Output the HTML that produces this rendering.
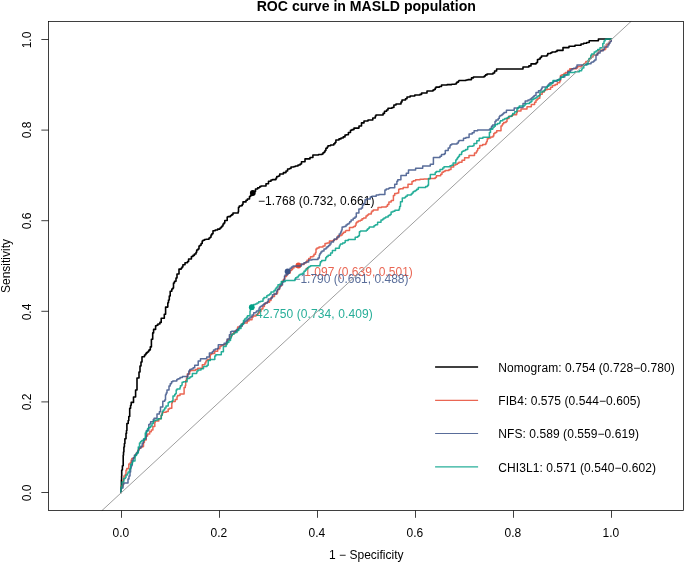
<!DOCTYPE html>
<html><head><meta charset="utf-8"><title>ROC curve in MASLD population</title>
<style>
html,body{margin:0;padding:0;background:#fff;}
body{width:685px;height:562px;position:relative;overflow:hidden;font-family:"Liberation Sans",sans-serif;color:#000;}
.t{position:absolute;white-space:nowrap;font-size:12px;line-height:12px;}
.c{transform:translateX(-50%);}
.v{transform:translate(-50%,-50%) rotate(-90deg);}
</style></head><body><div id="w" style="position:absolute;left:0;top:0;width:685px;height:562px;will-change:transform;">

<svg width="685" height="562" viewBox="0 0 685 562" style="position:absolute;left:0;top:0">
<polyline points="121.0,492.4 121.1,492.4 121.1,489.1 121.4,489.1 121.4,484.4 121.4,480.0 121.6,480.0 121.6,475.9 121.7,475.9 121.7,470.0 122.1,470.0 122.4,470.0 122.4,465.8 123.2,465.8 123.2,462.7 123.2,455.2 123.5,455.2 123.5,452.0 123.9,452.0 123.9,447.0 124.4,447.0 124.4,443.6 124.9,443.6 124.9,438.8 125.3,438.8 126.0,438.8 126.0,433.4 126.5,433.4 126.5,430.6 126.9,430.6 126.9,427.0 126.9,423.5 127.6,423.5 128.2,423.5 128.2,420.6 128.8,420.6 128.8,416.5 129.7,416.5 129.7,413.3 129.7,408.2 130.6,408.2 130.6,405.3 131.2,405.3 131.2,402.4 132.3,402.4 133.5,402.4 133.5,400.0 133.5,397.0 134.5,397.0 135.6,397.0 135.6,394.0 135.6,390.0 136.0,390.0 137.0,390.0 137.0,384.0 137.0,378.0 138.0,378.0 139.0,378.0 139.0,372.0 140.0,372.0 140.0,366.0 141.0,366.0 141.0,362.0 142.0,362.0 142.0,359.0 142.0,356.8 143.4,356.8 144.5,356.8 144.5,355.0 145.6,355.0 145.6,353.9 146.3,353.9 146.3,352.9 147.3,352.9 147.3,352.0 148.5,352.0 148.5,350.9 149.1,350.9 149.1,349.9 150.3,349.9 150.3,346.9 151.4,346.9 151.4,345.4 151.4,339.2 152.7,339.2 152.7,332.9 153.6,332.9 153.6,329.4 154.9,329.4 155.6,329.4 155.6,327.8 155.6,325.8 156.7,325.8 156.7,325.2 157.9,325.2 157.9,324.0 159.4,324.0 159.9,324.0 159.9,322.4 161.2,322.4 161.2,321.4 161.2,318.3 162.1,318.3 164.3,318.3 164.3,317.8 164.3,314.2 164.7,314.2 165.6,314.2 165.6,310.2 165.6,307.1 167.0,307.1 167.8,307.1 167.8,302.7 168.5,302.7 168.5,300.0 169.3,300.0 169.3,296.0 170.2,296.0 170.2,292.0 170.2,291.3 171.1,291.3 171.8,291.3 171.8,289.0 172.8,289.0 172.8,288.1 173.5,288.1 173.5,286.0 173.5,283.0 174.5,283.0 174.5,281.2 175.0,281.2 176.0,281.2 176.0,280.0 176.0,278.0 177.0,278.0 177.0,274.0 178.0,274.0 179.0,274.0 179.0,270.0 179.0,269.1 180.4,269.1 181.3,269.1 181.3,268.1 182.0,268.1 182.0,267.0 182.9,267.0 182.9,265.4 182.9,264.8 184.4,264.8 185.0,264.8 185.0,264.0 185.0,262.7 186.1,262.7 187.5,262.7 187.5,261.5 188.6,261.5 188.6,259.7 188.6,259.0 190.0,259.0 191.4,259.0 191.4,257.7 191.4,256.5 193.0,256.5 193.0,255.4 194.4,255.4 194.4,254.0 196.0,254.0 196.0,252.3 196.7,252.3 196.7,250.0 198.0,250.0 198.0,249.0 199.0,249.0 199.0,246.0 200.0,246.0 200.0,245.2 201.1,245.2 201.1,243.5 201.5,243.5 202.2,243.5 202.2,241.7 202.2,241.0 203.0,241.0 203.0,240.2 204.5,240.2 204.5,239.5 206.0,239.5 206.0,239.2 208.2,239.2 209.0,239.2 209.0,238.0 210.1,238.0 210.1,237.3 211.0,237.3 211.0,235.0 211.9,235.0 211.9,233.7 213.0,233.7 213.0,232.0 213.0,230.8 215.2,230.8 215.2,230.0 216.5,230.0 217.6,230.0 217.6,229.1 220.0,229.1 220.0,228.0 221.1,228.0 221.1,227.0 222.0,227.0 222.0,226.0 223.0,226.0 223.0,225.0 223.0,224.0 224.0,224.0 224.0,222.9 224.8,222.9 224.8,220.5 226.0,220.5 227.2,220.5 227.2,218.5 227.2,217.0 228.0,217.0 228.0,216.6 229.1,216.6 230.5,216.6 230.5,215.5 231.8,215.5 231.8,214.6 233.0,214.6 233.0,214.0 233.0,213.0 237.0,213.0 238.2,213.0 238.2,211.8 238.5,211.8 238.5,209.5 238.5,207.2 239.3,207.2 239.3,206.0 240.0,206.0 241.2,206.0 241.2,205.6 242.3,205.6 242.3,204.2 243.0,204.2 243.0,203.0 243.0,201.9 244.6,201.9 246.0,201.9 246.0,201.0 246.0,200.3 247.4,200.3 247.4,199.0 249.0,199.0 249.5,199.0 249.5,197.8 249.5,196.5 250.5,196.5 250.5,195.4 250.9,195.4 252.0,195.4 252.0,194.0 252.0,192.7 253.6,192.7 253.6,191.5 254.5,191.5 255.5,191.5 255.5,189.8 255.5,189.0 257.0,189.0 257.6,189.0 257.6,187.9 259.0,187.9 259.0,187.5 259.8,187.5 259.8,186.6 261.0,186.6 261.0,186.0 266.0,186.0 266.0,185.0 266.0,183.8 267.5,183.8 268.5,183.8 268.5,182.5 268.5,181.3 270.3,181.3 271.0,181.3 271.0,180.0 272.6,180.0 272.6,179.6 276.0,179.6 276.0,178.0 276.8,178.0 276.8,176.5 278.5,176.5 278.5,176.0 279.7,176.0 279.7,175.2 279.7,174.0 281.0,174.0 283.4,174.0 283.4,173.2 283.4,172.6 285.0,172.6 286.0,172.6 286.0,171.0 287.6,171.0 287.6,170.0 287.6,169.0 288.5,169.0 289.5,169.0 289.5,168.5 291.0,168.5 291.0,167.0 294.0,167.0 294.0,166.5 295.6,166.5 295.6,166.0 298.0,166.0 298.0,165.0 300.1,165.0 300.1,164.0 301.5,164.0 301.5,162.5 301.5,161.8 303.4,161.8 305.0,161.8 305.0,160.0 305.0,158.9 307.0,158.9 310.0,158.9 310.0,157.5 312.9,157.5 312.9,156.1 312.9,155.0 315.0,155.0 318.5,155.0 318.5,154.5 322.0,154.5 322.0,154.0 323.0,154.0 323.0,152.7 324.2,152.7 324.2,151.9 325.0,151.9 325.0,150.5 325.9,150.5 325.9,149.1 325.9,148.3 327.2,148.3 327.2,147.0 328.0,147.0 328.0,145.7 330.6,145.7 330.6,145.0 333.0,145.0 333.8,145.0 333.8,143.8 335.0,143.8 335.0,142.5 335.9,142.5 335.9,141.3 335.9,140.0 337.0,140.0 339.0,140.0 339.0,138.9 341.0,138.9 341.0,138.0 343.2,138.0 343.2,136.9 345.0,136.9 345.0,136.0 345.0,135.1 346.2,135.1 346.2,134.7 346.8,134.7 348.4,134.7 348.4,133.7 348.4,132.5 349.5,132.5 350.5,132.5 350.5,131.3 350.5,130.2 352.0,130.2 352.0,129.6 353.1,129.6 354.0,129.6 354.0,129.0 354.0,128.1 356.7,128.1 359.0,128.1 359.0,127.0 359.0,126.0 360.2,126.0 361.5,126.0 361.5,124.5 361.5,122.9 362.3,122.9 364.0,122.9 364.0,122.0 364.0,121.0 368.0,121.0 368.0,120.0 372.0,120.0 372.8,120.0 372.8,118.6 372.8,118.0 374.0,118.0 375.3,118.0 375.3,116.9 375.3,116.0 376.0,116.0 376.0,115.0 381.0,115.0 383.1,115.0 383.1,113.4 384.5,113.4 384.5,112.5 384.5,111.3 386.6,111.3 386.6,110.0 388.0,110.0 388.0,108.3 389.2,108.3 392.0,108.3 392.0,107.5 393.9,107.5 393.9,106.0 393.9,105.0 396.0,105.0 396.0,104.0 401.0,104.0 401.0,102.0 402.0,102.0 402.0,100.0 403.0,100.0 405.5,100.0 405.5,98.8 407.0,98.8 407.0,98.0 407.0,97.0 410.1,97.0 410.1,96.0 411.0,96.0 414.8,96.0 414.8,95.6 414.8,95.0 420.0,95.0 420.0,94.4 421.6,94.4 421.6,93.0 422.0,93.0 427.0,93.0 427.0,92.0 427.0,91.0 433.0,91.0 433.0,90.1 434.1,90.1 434.1,89.5 434.5,89.5 435.2,89.5 435.2,88.8 435.2,88.0 436.0,88.0 436.0,87.1 437.5,87.1 439.5,87.1 439.5,86.5 441.5,86.5 441.5,85.7 441.5,85.0 443.0,85.0 447.2,85.0 447.2,84.6 451.7,84.6 451.7,84.3 455.0,84.3 455.0,84.0 456.3,84.0 456.3,82.9 457.0,82.9 457.0,82.5 457.0,82.1 458.5,82.1 458.5,81.0 459.0,81.0 459.0,80.5 466.0,80.5 466.0,80.0 468.0,80.0 468.0,79.6 469.6,79.6 471.5,79.6 471.5,78.5 471.5,77.9 473.4,77.9 473.4,77.0 475.0,77.0 475.0,77.0 479.0,77.0 479.0,77.0 483.0,77.0 484.1,77.0 484.1,76.4 485.0,76.4 485.0,75.5 485.6,75.5 485.6,74.9 487.0,74.9 487.0,74.0 493.0,74.0 493.0,73.0 494.6,73.0 494.6,72.2 494.6,71.0 495.5,71.0 496.6,71.0 496.6,70.5 496.6,69.0 498.0,69.0 498.0,69.0 501.7,69.0 505.8,69.0 505.8,69.0 505.8,69.0 509.7,69.0 516.1,69.0 516.1,69.0 521.0,69.0 521.0,69.0 523.0,69.0 523.0,67.6 523.0,67.0 527.0,67.0 528.9,67.0 528.9,65.9 531.0,65.9 531.0,65.0 531.0,63.9 532.8,63.9 536.0,63.9 536.0,63.0 536.9,63.0 536.9,62.4 537.5,62.4 537.5,61.0 537.5,59.5 538.1,59.5 539.0,59.5 539.0,59.0 540.2,59.0 540.2,58.4 540.2,57.5 541.0,57.5 541.5,57.5 541.5,56.5 541.5,56.0 543.0,56.0 547.0,56.0 547.0,55.0 547.8,55.0 547.8,54.3 547.8,53.5 549.5,53.5 550.8,53.5 550.8,52.7 552.0,52.7 552.0,52.0 555.5,52.0 555.5,51.5 557.0,51.5 557.0,50.4 563.0,50.4 563.0,49.0 563.0,47.6 569.0,47.6 569.0,46.2 575.0,46.2 575.0,45.3 577.3,45.3 581.0,45.3 581.0,44.0 583.6,44.0 583.6,43.3 586.7,43.3 586.7,42.5 589.2,42.5 589.2,41.4 589.2,40.8 592.6,40.8 598.4,40.8 598.4,39.6 598.4,39.0 604.0,39.0 604.0,39.0 607.0,39.0 607.0,39.0 611.0,39.0" fill="none" stroke="#000" stroke-width="1.6" stroke-opacity="1" stroke-linejoin="round" stroke-linecap="round"/>
<circle cx="252.8" cy="193.0" r="2.9" fill="#000"/>
</svg>
<div class="t" style="left:258px;top:194.5px;letter-spacing:0.07px;">−1.768 (0.732, 0.661)</div>
<svg width="685" height="562" viewBox="0 0 685 562" style="position:absolute;left:0;top:0">
<polyline points="121.0,492.4 121.0,486.0 122.0,486.0 123.0,486.0 123.0,480.0 123.9,480.0 123.9,478.0 123.9,476.0 124.5,476.0 125.3,476.0 125.3,474.2 126.0,474.2 126.0,472.0 126.0,470.2 126.8,470.2 126.8,468.5 127.5,468.5 128.8,468.5 128.8,464.0 130.3,464.0 130.3,462.6 131.2,462.6 131.2,461.7 131.2,459.9 131.8,459.9 131.8,458.6 132.8,458.6 133.8,458.6 133.8,457.5 134.7,457.5 134.7,456.4 135.2,456.4 135.2,454.7 136.4,454.7 136.4,452.9 137.6,452.9 137.6,451.1 138.3,451.1 138.3,450.3 138.3,449.4 139.4,449.4 139.4,448.2 140.6,448.2 140.6,447.0 141.5,447.0 142.8,447.0 142.8,446.4 143.5,446.4 143.5,445.2 143.5,442.5 144.4,442.5 144.4,440.0 145.3,440.0 146.2,440.0 146.2,435.9 147.6,435.9 147.6,434.1 149.7,434.1 149.7,432.3 149.7,431.7 150.6,431.7 151.3,431.7 151.3,431.1 151.3,430.0 152.9,430.0 152.9,426.4 153.5,426.4 154.8,426.4 154.8,424.0 154.8,422.3 155.3,422.3 155.3,421.0 158.0,421.0 158.8,421.0 158.8,420.6 158.8,418.8 159.9,418.8 161.1,418.8 161.1,417.6 161.1,415.6 162.0,415.6 162.0,413.3 162.8,413.3 162.8,412.3 164.1,412.3 166.2,412.3 166.2,411.4 168.2,411.4 168.2,410.6 168.2,409.1 169.6,409.1 169.6,408.2 170.5,408.2 171.8,408.2 171.8,405.2 171.8,402.9 172.3,402.9 172.3,401.6 174.3,401.6 175.2,401.6 175.2,400.6 175.2,399.5 176.2,399.5 177.0,399.5 177.0,398.0 177.0,396.8 177.6,396.8 177.6,395.5 178.5,395.5 180.0,395.5 180.0,394.6 180.0,394.0 184.1,394.0 184.1,387.6 185.3,387.6 185.3,385.5 185.7,385.5 185.7,380.5 186.5,380.5 186.5,378.0 187.3,378.0 187.3,374.1 188.2,374.1 189.7,374.1 189.7,372.6 189.7,371.1 190.6,371.1 190.6,370.5 195.3,370.5 195.3,369.4 197.6,369.4 197.6,368.2 201.2,368.2 202.3,368.2 202.3,365.3 202.3,364.7 203.1,364.7 204.9,364.7 204.9,363.0 205.9,363.0 205.9,362.3 205.9,361.3 206.4,361.3 206.4,360.6 207.7,360.6 207.7,359.4 208.8,359.4 210.2,359.4 210.2,356.6 210.2,355.3 210.6,355.3 210.6,354.2 211.8,354.2 211.8,353.5 213.5,353.5 214.7,353.5 214.7,351.2 217.7,351.2 217.7,350.1 217.7,348.8 218.8,348.8 219.9,348.8 219.9,347.3 219.9,346.5 221.1,346.5 221.1,345.6 223.0,345.6 223.0,344.7 224.7,344.7 226.0,344.7 226.0,343.5 227.0,343.5 227.0,341.8 227.0,339.9 228.5,339.9 228.5,339.3 229.0,339.3 229.9,339.3 229.9,338.2 229.9,336.5 230.9,336.5 231.7,336.5 231.7,334.1 233.7,334.1 233.7,332.6 235.2,332.6 235.2,331.8 235.2,330.8 236.9,330.8 237.6,330.8 237.6,329.5 237.6,327.0 239.0,327.0 240.6,327.0 240.6,326.1 241.9,326.1 241.9,324.7 241.9,324.0 243.0,324.0 243.0,323.1 245.1,323.1 247.2,323.1 247.2,321.9 247.2,321.0 249.0,321.0 249.0,319.8 250.6,319.8 252.0,319.8 252.0,318.5 252.0,317.1 253.3,317.1 253.3,316.0 255.0,316.0 256.0,316.0 256.0,314.8 257.1,314.8 257.1,314.4 258.0,314.4 258.0,313.0 259.3,313.0 259.3,311.8 259.3,311.2 259.8,311.2 261.0,311.2 261.0,310.0 261.0,309.1 261.6,309.1 262.9,309.1 262.9,307.7 262.9,306.5 264.0,306.5 264.4,306.5 264.4,305.3 264.4,304.0 265.5,304.0 265.5,303.0 267.0,303.0 267.0,302.3 268.7,302.3 269.5,302.3 269.5,300.5 271.0,300.5 271.0,299.3 271.0,298.0 272.0,298.0 272.0,296.6 273.0,296.6 274.5,296.6 274.5,295.5 274.5,294.1 276.1,294.1 277.0,294.1 277.0,293.0 277.6,293.0 277.6,291.3 277.6,289.5 278.5,289.5 279.5,289.5 279.5,287.9 279.5,286.0 280.0,286.0 281.5,286.0 281.5,284.3 282.0,284.3 282.0,283.0 282.0,281.4 283.1,281.4 283.1,280.0 284.0,280.0 284.0,279.0 284.8,279.0 284.8,276.5 286.5,276.5 286.5,274.4 288.0,274.4 288.0,273.0 289.0,273.0 290.2,273.0 290.2,271.9 290.2,270.5 291.5,270.5 291.5,269.6 292.6,269.6 292.6,268.0 294.0,268.0 294.0,266.7 296.7,266.7 298.0,266.7 298.0,265.6 300.1,265.6 300.1,264.6 304.0,264.6 304.0,264.0 304.0,263.0 305.0,263.0 305.9,263.0 305.9,262.1 307.0,262.1 307.0,261.0 307.0,260.3 308.7,260.3 308.7,258.5 310.5,258.5 310.5,256.7 313.0,256.7 313.0,256.0 314.0,256.0 314.0,254.2 314.5,254.2 315.5,254.2 315.5,252.5 316.0,252.5 316.0,250.6 316.0,249.0 317.0,249.0 317.0,248.1 319.0,248.1 319.0,247.0 323.0,247.0 323.0,245.9 324.1,245.9 325.0,245.9 325.0,245.0 325.0,243.5 326.0,243.5 327.0,243.5 327.0,243.0 329.4,243.0 329.4,242.3 329.4,241.0 333.0,241.0 333.0,240.5 334.1,240.5 334.1,239.5 335.0,239.5 336.8,239.5 336.8,238.1 338.0,238.1 338.0,237.0 338.0,235.8 339.5,235.8 341.0,235.8 341.0,235.0 342.2,235.0 342.2,233.5 343.5,233.5 343.5,233.0 343.5,232.3 345.4,232.3 345.4,231.0 346.0,231.0 346.0,230.4 348.0,230.4 349.5,230.4 349.5,229.0 349.5,227.6 352.0,227.6 353.0,227.6 353.0,227.0 353.8,227.0 353.8,226.5 355.3,226.5 355.3,225.2 356.0,225.2 356.0,224.0 356.0,223.1 356.8,223.1 356.8,222.1 358.2,222.1 358.2,221.0 359.0,221.0 360.3,221.0 360.3,220.2 362.0,220.2 362.0,219.5 362.0,218.7 363.6,218.7 363.6,218.0 365.0,218.0 366.0,218.0 366.0,217.3 366.0,216.1 367.3,216.1 367.3,215.0 368.5,215.0 368.5,214.0 369.8,214.0 371.3,214.0 371.3,213.0 371.3,212.0 372.0,212.0 372.0,211.1 373.3,211.1 373.3,210.0 375.6,210.0 378.0,210.0 378.0,209.0 378.0,207.6 381.5,207.6 381.5,207.0 385.0,207.0 386.3,207.0 386.3,206.3 387.5,206.3 387.5,204.5 388.9,204.5 388.9,203.7 388.9,202.0 390.0,202.0 391.2,202.0 391.2,201.3 391.2,200.5 392.0,200.5 393.4,200.5 393.4,199.9 393.4,195.4 394.7,195.4 394.7,193.6 396.0,193.6 397.1,193.6 397.1,193.0 398.7,193.0 398.7,191.9 398.7,189.2 400.0,189.2 400.0,188.7 403.2,188.7 403.2,187.4 406.7,187.4 408.0,187.4 408.0,186.3 408.0,184.3 408.9,184.3 412.0,184.3 412.0,183.4 412.0,181.6 413.4,181.6 413.4,180.7 415.6,180.7 415.6,179.8 420.0,179.8 420.0,179.3 423.8,179.3 423.8,178.9 427.2,178.9 429.9,178.9 429.9,178.5 435.2,178.5 435.2,177.6 436.4,177.6 436.4,176.8 436.4,175.8 437.0,175.8 437.0,175.8 440.0,175.8 440.7,175.8 440.7,174.2 442.0,174.2 442.0,173.5 442.0,172.3 443.4,172.3 443.4,171.5 445.0,171.5 445.0,170.5 447.7,170.5 449.0,170.5 449.0,169.8 449.0,169.5 450.0,169.5 451.0,169.5 451.0,168.9 451.0,167.0 452.1,167.0 453.7,167.0 453.7,165.6 453.7,165.0 455.8,165.0 455.8,164.2 457.4,164.2 457.4,163.2 458.9,163.2 458.9,162.2 461.0,162.2 462.0,162.2 462.0,161.3 462.0,160.2 463.1,160.2 464.6,160.2 464.6,159.2 464.6,157.8 465.9,157.8 469.0,157.8 469.0,157.0 469.0,155.6 474.0,155.6 474.5,155.6 474.5,153.8 474.5,153.0 475.5,153.0 476.4,153.0 476.4,151.8 477.0,151.8 477.0,150.5 477.7,150.5 477.7,148.6 479.0,148.6 479.0,148.0 479.8,148.0 479.8,147.2 479.8,145.4 480.7,145.4 482.7,145.4 482.7,144.5 485.8,144.5 485.8,143.9 485.8,143.0 486.6,143.0 486.6,141.3 487.3,141.3 487.3,138.8 488.7,138.8 488.7,138.0 490.7,138.0 490.7,136.9 491.5,136.9 493.0,136.9 493.0,135.9 493.8,135.9 493.8,135.2 493.8,133.5 495.0,133.5 495.0,132.5 496.2,132.5 496.7,132.5 496.7,131.5 496.7,130.8 499.6,130.8 501.0,130.8 501.0,128.0 501.0,125.9 502.1,125.9 502.1,124.9 502.6,124.9 502.6,123.7 503.7,123.7 503.7,122.5 505.0,122.5 506.0,122.5 506.0,121.5 507.0,121.5 507.0,120.5 507.0,118.5 508.0,118.5 509.0,118.5 509.0,116.2 512.3,116.2 512.3,115.2 512.3,114.7 515.7,114.7 516.6,114.7 516.6,113.7 516.6,112.8 517.2,112.8 517.2,111.0 518.6,111.0 521.0,111.0 521.0,109.9 521.0,108.9 524.5,108.9 527.0,108.9 527.0,108.1 527.0,106.7 529.6,106.7 531.3,106.7 531.3,105.4 531.3,104.5 533.2,104.5 534.6,104.5 534.6,102.2 536.0,102.2 536.0,100.0 537.4,100.0 537.4,99.0 538.3,99.0 538.3,98.2 539.8,98.2 539.8,97.2 539.8,95.0 540.0,95.0 540.0,94.2 541.4,94.2 542.2,94.2 542.2,93.2 542.2,92.0 544.4,92.0 544.4,90.6 545.3,90.6 545.3,89.7 547.2,89.7 547.2,89.2 548.8,89.2 550.6,89.2 550.6,88.3 550.6,87.3 551.3,87.3 552.5,87.3 552.5,86.3 552.5,85.6 553.9,85.6 555.1,85.6 555.1,84.4 557.3,84.4 557.3,83.4 557.3,82.7 559.0,82.7 559.7,82.7 559.7,81.0 560.5,81.0 560.5,79.0 560.5,75.4 561.9,75.4 561.9,74.7 564.0,74.7 564.0,73.6 565.5,73.6 565.5,72.4 567.0,72.4 567.9,72.4 567.9,71.3 567.9,70.5 569.0,70.5 569.8,70.5 569.8,69.7 569.8,68.8 571.4,68.8 576.5,68.8 576.5,68.8 576.5,67.9 577.6,67.9 577.6,66.6 581.6,66.6 581.6,65.5 583.2,65.5 583.2,64.8 583.9,64.8 583.9,63.7 585.3,63.7 585.3,62.8 585.9,62.8 585.9,61.5 587.5,61.5 589.0,61.5 589.0,60.1 589.0,59.3 589.6,59.3 589.6,58.4 591.0,58.4 591.0,57.0 592.0,57.0 593.0,57.0 593.0,55.9 593.0,55.0 594.0,55.0 596.7,55.0 596.7,54.4 597.4,54.4 597.4,53.1 598.4,53.1 598.4,52.0 598.4,50.8 600.5,50.8 602.0,50.8 602.0,49.8 605.0,49.8 605.0,49.0 605.8,49.0 605.8,47.0 606.4,47.0 606.4,44.7 606.4,44.3 607.6,44.3 608.6,44.3 608.6,43.2 609.3,43.2 609.3,41.8 610.0,41.8 610.0,40.7 611.2,40.7 611.2,39.3" fill="none" stroke="#E64B35" stroke-width="1.5" stroke-opacity="0.85" stroke-linejoin="round" stroke-linecap="round"/>
<circle cx="298.4" cy="265.5" r="2.9" fill="#E64B35"/>
</svg>
<div class="t" style="left:304.2px;top:266.2px;color:#E64B35;opacity:0.85;letter-spacing:0.03px;">1.097 (0.639, 0.501)</div>
<svg width="685" height="562" viewBox="0 0 685 562" style="position:absolute;left:0;top:0">
<polyline points="121.0,492.4 121.0,488.0 122.0,488.0 123.0,488.0 123.0,485.9 123.0,484.0 124.0,484.0 124.0,483.0 127.0,483.0 128.0,483.0 128.0,479.0 129.0,479.0 129.0,476.0 130.0,476.0 130.0,472.0 130.6,472.0 130.6,468.0 131.2,468.0 131.2,465.8 132.1,465.8 132.1,463.0 132.1,460.5 133.2,460.5 133.2,457.8 134.4,457.8 134.4,455.2 135.3,455.2 135.8,455.2 135.8,453.9 137.1,453.9 137.1,452.2 137.9,452.2 137.9,450.8 138.8,450.8 138.8,449.4 138.8,447.9 139.9,447.9 141.0,447.9 141.0,446.3 142.2,446.3 142.2,444.7 142.2,443.6 143.1,443.6 143.1,442.3 143.5,442.3 143.5,438.9 144.7,438.9 146.0,438.9 146.0,436.7 146.4,436.7 146.4,435.3 146.4,430.6 147.6,430.6 148.8,430.6 148.8,425.9 148.8,424.5 149.9,424.5 149.9,423.7 150.6,423.7 150.6,421.7 151.7,421.7 153.3,421.7 153.3,420.4 153.3,419.6 154.1,419.6 154.1,418.2 154.7,418.2 157.0,418.2 157.0,417.6 157.0,414.1 158.2,414.1 159.4,414.1 159.4,411.8 160.5,411.8 160.5,408.9 160.5,407.0 161.7,407.0 162.8,407.0 162.8,405.4 162.8,401.2 164.1,401.2 164.7,401.2 164.7,400.0 165.5,400.0 165.5,396.0 165.5,394.7 166.2,394.7 166.2,393.0 167.0,393.0 167.0,390.0 168.4,390.0 169.0,390.0 169.0,386.0 170.2,386.0 170.2,383.7 171.5,383.7 171.5,383.0 171.5,381.7 172.8,381.7 172.8,381.0 174.0,381.0 176.8,381.0 176.8,380.3 176.8,379.5 178.0,379.5 178.0,378.8 180.0,378.8 180.0,377.4 181.1,377.4 182.4,377.4 182.4,376.4 187.1,376.4 187.1,377.0 187.9,377.0 187.9,375.4 187.9,374.1 188.8,374.1 188.8,371.0 189.8,371.0 189.8,369.4 191.2,369.4 191.2,369.1 192.2,369.1 193.1,369.1 193.1,367.8 194.7,367.8 194.7,366.6 194.7,365.3 195.3,365.3 198.2,365.3 198.2,364.1 198.2,361.1 198.8,361.1 200.5,361.1 200.5,359.7 200.5,358.8 201.7,358.8 205.3,358.8 205.3,358.8 206.7,358.8 206.7,357.5 206.7,357.0 208.2,357.0 209.4,357.0 209.4,352.9 212.3,352.9 212.3,351.7 213.5,351.7 213.5,350.0 215.2,350.0 215.2,349.0 217.6,349.0 217.6,348.2 218.3,348.2 218.3,346.4 218.3,344.7 220.0,344.7 220.0,344.7 224.1,344.7 224.1,343.2 225.3,343.2 226.4,343.2 226.4,341.8 227.2,341.8 227.2,340.3 227.2,339.0 228.2,339.0 229.4,339.0 229.4,334.7 230.6,334.7 230.6,333.5 230.6,331.8 231.7,331.8 231.7,331.2 236.4,331.2 236.4,329.5 237.6,329.5 238.5,329.5 238.5,328.3 239.5,328.3 239.5,326.9 239.5,326.0 241.0,326.0 242.4,326.0 242.4,324.6 242.4,323.5 244.0,323.5 244.0,321.7 245.2,321.7 245.2,321.0 247.0,321.0 247.0,319.7 248.1,319.7 248.1,318.6 249.3,318.6 250.0,318.6 250.0,318.0 250.0,317.0 250.9,317.0 252.0,317.0 252.0,315.9 252.0,315.0 253.0,315.0 253.7,315.0 253.7,314.4 253.7,312.7 255.3,312.7 255.9,312.7 255.9,312.0 256.5,312.0 256.5,311.5 256.5,311.1 257.4,311.1 258.4,311.1 258.4,310.0 259.1,310.0 259.1,309.1 259.1,308.0 260.0,308.0 260.0,306.7 261.1,306.7 261.1,306.0 262.5,306.0 262.5,305.0 263.7,305.0 263.7,304.0 265.0,304.0 265.0,303.0 266.6,303.0 267.5,303.0 267.5,301.5 268.3,301.5 268.3,300.2 268.3,299.0 270.0,299.0 271.1,299.0 271.1,297.7 272.5,297.7 272.5,296.5 272.5,294.8 273.8,294.8 273.8,294.0 275.0,294.0 276.5,294.0 276.5,292.9 276.5,291.0 277.5,291.0 277.5,289.3 279.0,289.3 279.0,288.0 280.0,288.0 280.0,286.2 280.5,286.2 280.5,285.0 281.5,285.0 282.5,285.0 282.5,283.1 282.5,282.0 283.0,282.0 283.8,282.0 283.8,279.9 284.5,279.9 284.5,278.0 284.5,276.1 285.1,276.1 285.1,275.0 286.0,275.0 287.4,275.0 287.4,271.4 287.4,270.3 289.2,270.3 290.0,270.3 290.0,269.0 290.0,268.3 291.5,268.3 291.5,267.0 293.0,267.0 293.0,266.0 299.0,266.0 301.3,266.0 301.3,265.1 301.3,264.0 302.5,264.0 304.1,264.0 304.1,262.8 306.0,262.8 306.0,262.0 308.7,262.0 308.7,261.1 308.7,260.0 312.0,260.0 312.0,259.5 315.0,259.5 318.0,259.5 318.0,258.0 319.3,258.0 319.3,256.5 319.3,255.0 320.0,255.0 320.0,253.4 320.9,253.4 320.9,252.0 322.0,252.0 322.0,250.9 322.8,250.9 324.0,250.9 324.0,250.0 324.0,248.9 325.3,248.9 326.0,248.9 326.0,248.0 327.0,248.0 327.0,246.7 328.5,246.7 328.5,245.5 329.9,245.5 329.9,244.1 331.0,244.1 331.0,243.0 331.0,241.9 332.1,241.9 333.5,241.9 333.5,241.0 333.5,240.3 334.3,240.3 334.3,239.0 336.0,239.0 336.9,239.0 336.9,237.8 336.9,237.0 338.0,237.0 339.2,237.0 339.2,236.1 339.2,234.0 340.0,234.0 340.6,234.0 340.6,232.1 341.5,232.1 341.5,230.0 342.1,230.0 342.1,228.9 342.1,227.0 343.0,227.0 344.0,227.0 344.0,226.5 346.0,226.5 346.0,225.0 347.3,225.0 347.3,224.0 349.0,224.0 349.0,223.0 349.7,223.0 349.7,221.8 351.1,221.8 351.1,220.4 351.1,220.0 352.0,220.0 353.2,220.0 353.2,218.7 353.2,218.2 354.3,218.2 355.0,218.2 355.0,217.0 356.3,217.0 356.3,215.8 356.3,213.0 357.5,213.0 358.9,213.0 358.9,211.7 358.9,209.0 360.0,209.0 361.3,209.0 361.3,207.9 362.5,207.9 362.5,205.0 363.7,205.0 363.7,203.5 365.0,203.5 365.0,201.0 365.0,199.7 366.4,199.7 366.4,199.0 368.5,199.0 370.3,199.0 370.3,198.1 370.3,197.0 372.0,197.0 372.0,196.2 376.2,196.2 376.2,195.0 379.0,195.0 379.0,194.5 380.0,194.5 384.9,194.5 384.9,193.6 384.9,190.0 386.2,190.0 386.2,189.0 388.7,189.0 388.7,188.3 389.8,188.3 389.8,187.8 394.7,187.8 394.7,184.3 396.0,184.3 396.9,184.3 396.9,182.7 396.9,181.2 397.8,181.2 397.8,179.8 400.9,179.8 400.9,175.4 402.3,175.4 406.3,175.4 406.3,174.0 406.3,173.2 407.6,173.2 408.5,173.2 408.5,170.9 408.5,170.0 413.4,170.0 415.6,170.0 415.6,168.7 415.6,168.2 419.2,168.2 422.7,168.2 422.7,166.9 422.7,166.0 428.0,166.0 430.3,166.0 430.3,165.5 430.3,164.2 432.0,164.2 433.4,164.2 433.4,158.9 433.4,157.6 437.9,157.6 440.0,157.6 440.0,156.2 441.5,156.2 441.5,155.8 441.5,154.6 443.5,154.6 444.3,154.6 444.3,153.7 445.3,153.7 445.3,151.7 445.3,150.6 446.5,150.6 448.2,150.6 448.2,149.4 448.2,148.1 449.2,148.1 449.9,148.1 449.9,146.8 449.9,145.8 450.5,145.8 450.5,144.7 451.8,144.7 451.8,144.1 456.5,144.1 457.1,144.1 457.1,143.0 458.4,143.0 458.4,141.8 458.4,141.1 459.4,141.1 459.4,140.5 462.0,140.5 463.5,140.5 463.5,139.4 463.5,138.3 465.9,138.3 465.9,137.6 468.2,137.6 469.1,137.6 469.1,136.3 469.1,134.1 470.0,134.1 472.2,134.1 472.2,132.8 474.1,132.8 474.1,131.7 474.1,130.8 477.6,130.8 477.6,130.0 483.6,130.0 489.4,130.0 489.4,129.3 490.1,129.3 490.1,128.6 491.5,128.6 491.5,127.0 491.5,126.2 492.6,126.2 492.6,125.0 493.8,125.0 495.0,125.0 495.0,122.6 495.0,121.5 496.0,121.5 496.0,120.1 497.6,120.1 498.2,120.1 498.2,118.4 499.3,118.4 499.3,117.1 499.3,116.4 500.0,116.4 500.0,115.5 501.0,115.5 501.9,115.5 501.9,114.4 503.0,114.4 503.0,113.5 504.0,113.5 504.0,112.5 506.4,112.5 506.4,111.4 506.4,110.3 508.4,110.3 514.2,110.3 514.2,109.6 514.2,108.0 517.1,108.0 518.6,108.0 518.6,107.4 523.0,107.4 523.0,106.0 523.0,103.5 524.0,103.5 525.2,103.5 525.2,101.6 525.2,100.9 528.0,100.9 528.0,100.0 529.6,100.0 530.2,100.0 530.2,99.1 531.5,99.1 531.5,98.0 532.5,98.0 532.5,97.3 533.2,97.3 533.2,96.5 534.2,96.5 534.2,95.4 536.0,95.4 536.0,94.0 536.0,92.5 537.3,92.5 538.5,92.5 538.5,92.0 538.5,90.7 540.0,90.7 540.5,90.7 540.5,90.1 541.5,90.1 541.5,89.0 541.5,88.4 542.1,88.4 542.1,87.0 543.0,87.0 543.0,87.0 547.3,87.0 547.3,85.9 547.9,85.9 547.9,85.0 549.0,85.0 549.0,83.8 550.0,83.8 550.0,82.7 551.0,82.7 553.5,82.7 553.5,82.1 553.5,81.2 556.0,81.2 557.2,81.2 557.2,80.5 557.2,79.7 558.0,79.7 560.4,79.7 560.4,78.3 560.4,76.9 562.8,76.9 564.8,76.9 564.8,76.0 564.8,75.0 566.1,75.0 567.0,75.0 567.0,74.0 567.8,74.0 567.8,73.0 567.8,71.7 569.0,71.7 570.5,71.7 570.5,70.5 570.5,70.0 572.0,70.0 572.0,68.8 573.6,68.8 573.6,68.3 574.7,68.3 576.0,68.3 576.0,67.0 577.0,67.0 577.0,65.7 577.0,65.0 578.0,65.0 578.0,65.0 582.3,65.0 586.7,65.0 586.7,63.7 586.7,63.7 591.0,63.7 591.0,62.4 591.9,62.4 591.9,62.0 593.0,62.0 593.6,62.0 593.6,61.0 594.7,61.0 594.7,60.0 596.0,60.0 596.0,57.5 596.0,55.0 597.0,55.0 597.8,55.0 597.8,54.2 597.8,53.0 599.0,53.0 600.1,53.0 600.1,52.0 600.1,51.3 600.6,51.3 600.6,50.8 601.3,50.8 603.3,50.8 603.3,49.6 604.2,49.6 604.2,48.4 604.2,47.0 607.9,47.0 607.9,45.0 609.0,45.0 609.0,43.2 610.0,43.2 610.0,41.5 610.6,41.5 611.2,41.5 611.2,39.6" fill="none" stroke="#3C5488" stroke-width="1.5" stroke-opacity="0.85" stroke-linejoin="round" stroke-linecap="round"/>
<circle cx="287.6" cy="271.4" r="2.9" fill="#3C5488"/>
</svg>
<div class="t" style="left:293.4px;top:272.7px;color:#3C5488;opacity:0.85;">−1.790 (0.661, 0.488)</div>
<svg width="685" height="562" viewBox="0 0 685 562" style="position:absolute;left:0;top:0">
<polyline points="121.0,492.4 121.0,487.0 122.0,487.0 122.0,482.0 123.0,482.0 123.8,482.0 123.8,479.7 123.8,478.5 124.5,478.5 125.3,478.5 125.3,477.4 126.0,477.4 126.0,475.0 127.4,475.0 127.4,473.8 128.0,473.8 128.0,472.0 129.5,472.0 129.5,470.6 129.5,469.0 130.0,469.0 130.6,469.0 130.6,465.2 130.6,464.3 131.7,464.3 132.4,464.3 132.4,463.1 132.4,461.9 133.0,461.9 133.0,461.1 134.1,461.1 135.0,461.1 135.0,459.5 135.0,455.5 136.5,455.5 136.5,452.9 137.0,452.9 138.3,452.9 138.3,449.5 138.3,447.0 138.8,447.0 139.5,447.0 139.5,445.3 139.5,442.9 140.6,442.9 140.6,441.6 141.8,441.6 141.8,440.5 143.5,440.5 144.2,440.5 144.2,438.5 145.3,438.5 145.3,432.9 146.3,432.9 146.3,431.6 147.6,431.6 147.6,429.4 147.6,428.6 148.7,428.6 148.7,427.6 150.6,427.6 150.6,426.1 152.0,426.1 152.0,423.5 152.9,423.5 153.4,423.5 153.4,422.3 153.4,421.3 154.2,421.3 154.2,420.6 155.8,420.6 155.8,420.0 157.9,420.0 157.9,418.8 160.0,418.8 161.3,418.8 161.3,414.9 162.3,414.9 162.3,413.5 162.3,411.5 163.2,411.5 163.2,410.0 164.7,410.0 164.7,407.9 166.0,407.9 166.0,405.9 167.0,405.9 168.2,405.9 168.2,404.2 168.2,402.4 169.4,402.4 169.4,401.7 170.1,401.7 172.3,401.7 172.3,400.6 173.0,400.6 173.0,398.0 173.0,396.0 174.0,396.0 174.7,396.0 174.7,394.4 175.5,394.4 175.5,393.5 176.2,393.5 176.2,391.9 176.2,390.0 177.0,390.0 177.0,389.0 178.5,389.0 180.0,389.0 180.0,387.6 180.4,387.6 180.4,385.7 181.7,385.7 181.7,385.0 182.1,385.0 182.1,384.1 182.1,382.3 183.5,382.3 183.5,381.8 184.3,381.8 187.1,381.8 187.1,379.9 187.1,378.6 188.1,378.6 189.2,378.6 189.2,378.1 190.0,378.1 190.0,377.0 191.2,377.0 191.2,376.4 192.4,376.4 192.4,374.9 192.4,373.5 192.9,373.5 196.5,373.5 196.5,372.9 196.9,372.9 196.9,372.3 196.9,371.0 198.1,371.0 198.1,370.0 199.4,370.0 201.0,370.0 201.0,368.8 203.5,368.8 203.5,367.6 203.5,366.4 205.3,366.4 207.0,366.4 207.0,365.3 208.2,365.3 208.2,361.1 208.2,360.6 210.3,360.6 210.3,359.4 213.5,359.4 214.8,359.4 214.8,358.0 214.8,355.9 215.8,355.9 215.8,354.7 220.0,354.7 221.3,354.7 221.3,353.5 221.3,351.7 222.3,351.7 223.4,351.7 223.4,349.2 223.4,346.5 224.7,346.5 226.1,346.5 226.1,344.5 227.0,344.5 227.0,343.5 227.0,342.6 228.0,342.6 228.8,342.6 228.8,341.2 228.8,340.6 229.3,340.6 230.5,340.6 230.5,340.0 230.5,338.0 231.3,338.0 231.3,335.3 232.3,335.3 232.3,334.1 233.6,334.1 234.2,334.1 234.2,333.0 235.2,333.0 235.2,332.4 237.0,332.4 237.0,331.1 237.0,330.6 238.8,330.6 238.8,328.5 239.7,328.5 241.0,328.5 241.0,326.0 241.0,324.2 242.2,324.2 243.5,324.2 243.5,322.0 243.5,320.4 244.6,320.4 244.6,319.0 246.0,319.0 246.0,318.1 246.6,318.1 246.6,317.2 247.5,317.2 247.5,315.8 248.8,315.8 250.0,315.8 250.0,315.0 250.0,311.0 250.5,311.0 250.5,307.0 251.4,307.0 251.4,305.6 251.9,305.6 253.6,305.6 253.6,304.6 255.4,304.6 255.4,303.9 257.0,303.9 257.0,303.0 258.7,303.0 258.7,301.7 260.7,301.7 260.7,301.2 263.0,301.2 263.0,300.0 263.0,298.7 264.0,298.7 264.0,297.5 265.5,297.5 266.8,297.5 266.8,295.8 268.0,295.8 268.0,295.0 269.6,295.0 269.6,294.0 271.0,294.0 271.0,293.0 271.0,292.0 272.5,292.0 274.0,292.0 274.0,291.0 274.0,290.4 275.3,290.4 275.3,289.0 276.0,289.0 276.0,288.0 276.9,288.0 276.9,287.0 278.0,287.0 278.0,284.8 279.5,284.8 280.0,284.8 280.0,284.0 281.3,284.0 281.3,282.7 281.3,281.6 282.0,281.6 285.3,281.6 285.3,281.1 285.3,280.4 289.0,280.4 295.0,280.4 295.0,279.0 295.6,279.0 295.6,277.7 297.0,277.7 297.0,277.0 298.4,277.0 298.4,275.8 299.0,275.8 299.0,275.0 300.1,275.0 300.1,274.3 302.3,274.3 302.3,273.2 304.0,273.2 304.0,272.0 304.0,271.2 305.3,271.2 305.3,270.0 306.5,270.0 306.5,268.8 307.9,268.8 307.9,267.5 309.0,267.5 309.0,266.6 309.4,266.6 310.6,266.6 310.6,265.8 316.0,265.8 316.0,265.7 320.0,265.7 320.0,265.2 320.0,264.1 320.4,264.1 320.4,261.7 321.7,261.7 321.7,260.5 323.6,260.5 325.3,260.5 325.3,259.9 325.7,259.9 325.7,258.5 325.7,257.7 326.6,257.7 326.6,256.5 328.1,256.5 328.1,255.2 329.4,255.2 330.6,255.2 330.6,254.2 330.6,252.9 331.8,252.9 332.4,252.9 332.4,251.4 332.4,250.5 333.5,250.5 335.5,250.5 335.5,248.8 335.5,248.2 337.6,248.2 339.3,248.2 339.3,247.5 339.3,245.9 340.0,245.9 340.0,244.7 340.5,244.7 340.5,244.1 341.5,244.1 342.6,244.1 342.6,242.9 344.5,242.9 344.5,242.4 345.2,242.4 345.2,241.1 345.2,240.5 346.0,240.5 348.2,240.5 348.2,239.4 348.2,239.4 351.6,239.4 355.2,239.4 355.2,239.4 355.2,237.2 356.6,237.2 357.6,237.2 357.6,236.4 358.6,236.4 358.6,235.7 359.4,235.7 359.4,233.5 359.4,231.7 360.5,231.7 360.5,231.1 366.4,231.1 366.4,230.2 367.4,230.2 367.4,229.1 368.5,229.1 368.5,228.2 369.3,228.2 369.3,227.0 374.0,227.0 374.0,225.8 375.0,225.8 375.0,225.3 375.7,225.3 375.7,224.7 376.5,224.7 377.6,224.7 377.6,223.5 377.6,222.3 380.0,222.3 381.0,222.3 381.0,221.0 381.0,220.1 382.8,220.1 382.8,219.0 384.0,219.0 384.0,218.0 385.7,218.0 385.7,217.0 387.0,217.0 388.2,217.0 388.2,215.5 390.0,215.5 390.0,214.5 391.1,214.5 391.1,213.2 391.1,212.0 393.0,212.0 393.0,211.3 394.9,211.3 394.9,210.2 397.8,210.2 399.0,210.2 399.0,209.0 399.6,209.0 399.6,206.6 400.5,206.6 400.5,204.5 400.5,201.8 401.3,201.8 402.3,201.8 402.3,199.0 402.3,198.1 403.3,198.1 404.9,198.1 404.9,197.3 405.8,197.3 405.8,196.3 407.2,196.3 407.2,195.0 411.2,195.0 411.2,194.5 411.2,194.0 412.2,194.0 412.2,192.9 413.2,192.9 413.2,191.4 413.8,191.4 415.1,191.4 415.1,190.4 416.7,190.4 416.7,189.2 418.3,189.2 418.3,188.7 418.3,187.4 424.5,187.4 425.7,187.4 425.7,186.6 427.6,186.6 427.6,185.2 428.5,185.2 428.5,178.5 430.3,178.5 430.3,177.1 430.3,174.5 430.8,174.5 435.2,174.5 435.2,173.2 435.2,172.4 436.2,172.4 436.2,171.4 437.0,171.4 440.0,171.4 440.0,170.7 440.0,169.6 441.4,169.6 442.7,169.6 442.7,169.1 442.7,168.0 444.0,168.0 444.0,166.8 447.3,166.8 450.0,166.8 450.0,165.8 451.5,165.8 451.5,165.2 453.1,165.2 453.1,164.2 453.1,163.0 454.1,163.0 455.8,163.0 455.8,162.0 455.8,160.1 456.6,160.1 456.6,159.0 457.5,159.0 457.5,157.5 458.5,157.5 458.5,156.3 459.5,156.3 459.5,154.6 460.4,154.6 461.6,154.6 461.6,153.7 461.6,151.9 462.4,151.9 462.4,151.2 463.9,151.2 463.9,150.4 465.7,150.4 465.7,149.6 466.2,149.6 467.7,149.6 467.7,147.8 467.7,146.8 469.0,146.8 469.0,146.3 470.1,146.3 472.9,146.3 472.9,145.8 474.0,145.8 474.0,143.9 474.0,143.4 475.8,143.4 476.8,143.4 476.8,142.4 476.8,140.8 477.8,140.8 479.2,140.8 479.2,139.5 479.2,138.2 482.9,138.2 482.9,137.3 485.0,137.3 489.4,137.3 489.4,135.9 489.4,132.5 490.5,132.5 490.5,129.3 491.6,129.3 492.7,129.3 492.7,128.2 493.1,128.2 493.1,127.2 494.2,127.2 494.2,126.3 495.3,126.3 495.3,125.7 495.3,124.5 497.5,124.5 497.5,123.6 498.6,123.6 499.8,123.6 499.8,122.6 499.8,122.0 500.4,122.0 500.4,120.8 501.6,120.8 502.8,120.8 502.8,120.5 502.8,119.5 504.8,119.5 504.8,118.4 505.5,118.4 507.2,118.4 507.2,117.6 508.7,117.6 508.7,116.6 511.3,116.6 511.3,115.4 512.7,115.4 512.7,114.5 512.7,113.6 514.0,113.6 514.7,113.6 514.7,112.7 514.7,111.8 515.7,111.8 516.9,111.8 516.9,111.2 516.9,109.0 517.5,109.0 517.9,109.0 517.9,107.4 519.3,107.4 519.3,106.7 519.3,106.0 524.5,106.0 524.5,105.3 525.1,105.3 525.1,103.9 526.4,103.9 526.4,103.5 528.1,103.5 529.6,103.5 529.6,102.3 531.0,102.3 531.0,101.5 531.9,101.5 531.9,100.5 531.9,99.4 533.9,99.4 533.9,98.3 535.9,98.3 535.9,97.7 536.9,97.7 536.9,96.8 538.1,96.8 538.1,95.7 539.0,95.7 540.0,95.7 540.0,93.0 540.0,92.0 541.3,92.0 542.9,92.0 542.9,91.0 544.4,91.0 544.4,90.0 545.3,90.0 545.3,88.9 545.3,88.1 546.2,88.1 547.2,88.1 547.2,87.0 547.2,86.3 548.8,86.3 548.8,85.1 549.5,85.1 551.0,85.1 551.0,83.5 552.4,83.5 552.4,82.1 553.0,82.1 553.0,80.5 559.0,80.5 559.0,79.7 559.0,79.0 560.2,79.0 560.8,79.0 560.8,78.0 560.8,77.3 562.3,77.3 563.4,77.3 563.4,76.0 563.4,74.9 567.2,74.9 569.0,74.9 569.0,74.0 569.0,72.5 570.9,72.5 575.0,72.5 575.0,71.7 575.0,71.7 579.4,71.7 579.4,70.8 580.5,70.8 581.6,70.8 581.6,70.3 581.6,69.5 582.1,69.5 582.1,68.0 583.0,68.0 583.8,68.0 583.8,64.4 588.0,64.4 588.0,63.0 588.0,60.4 589.0,60.4 589.0,58.5 590.0,58.5 590.8,58.5 590.8,56.6 590.8,55.3 591.6,55.3 591.6,54.0 592.6,54.0 594.2,54.0 594.2,52.7 594.2,52.0 596.0,52.0 596.0,51.1 597.0,51.1 597.0,50.5 597.7,50.5 597.7,49.6 598.6,49.6 600.0,49.6 600.0,48.4 600.0,47.8 600.8,47.8 602.8,47.8 602.8,46.0 602.8,43.5 604.0,43.5 604.0,41.0 605.0,41.0 605.0,40.1 605.5,40.1 605.5,39.3 607.0,39.3 607.0,39.0 611.5,39.0" fill="none" stroke="#00A087" stroke-width="1.5" stroke-opacity="0.85" stroke-linejoin="round" stroke-linecap="round"/>
<circle cx="251.8" cy="307.2" r="2.9" fill="#00A087"/>
</svg>
<div class="t" style="left:256px;top:308px;color:#00A087;opacity:0.85;letter-spacing:0.1px;">42.750 (0.734, 0.409)</div>
<svg width="685" height="562" viewBox="0 0 685 562" style="position:absolute;left:0;top:0">
<line x1="101.9" y1="510.6" x2="631.1" y2="21.4" stroke="#9E9E9E" stroke-width="1"/>
<rect x="48.55" y="21.4" width="634.95" height="489.2" fill="none" stroke="#000" stroke-width="0.75"/>
<line x1="121.5" y1="510.6" x2="121.5" y2="517.8" stroke="#000" stroke-width="0.75"/>
<line x1="48.55" y1="492.5" x2="41.35" y2="492.5" stroke="#000" stroke-width="0.75"/>
<line x1="219.5" y1="510.6" x2="219.5" y2="517.8" stroke="#000" stroke-width="0.75"/>
<line x1="48.55" y1="401.9" x2="41.35" y2="401.9" stroke="#000" stroke-width="0.75"/>
<line x1="317.5" y1="510.6" x2="317.5" y2="517.8" stroke="#000" stroke-width="0.75"/>
<line x1="48.55" y1="311.3" x2="41.35" y2="311.3" stroke="#000" stroke-width="0.75"/>
<line x1="415.5" y1="510.6" x2="415.5" y2="517.8" stroke="#000" stroke-width="0.75"/>
<line x1="48.55" y1="220.7" x2="41.35" y2="220.7" stroke="#000" stroke-width="0.75"/>
<line x1="513.5" y1="510.6" x2="513.5" y2="517.8" stroke="#000" stroke-width="0.75"/>
<line x1="48.55" y1="130.1" x2="41.35" y2="130.1" stroke="#000" stroke-width="0.75"/>
<line x1="611.5" y1="510.6" x2="611.5" y2="517.8" stroke="#000" stroke-width="0.75"/>
<line x1="48.55" y1="39.5" x2="41.35" y2="39.5" stroke="#000" stroke-width="0.75"/>
<line x1="435.1" y1="367.0" x2="478.1" y2="367.0" stroke="#000" stroke-width="1.5" stroke-opacity="1"/>
<line x1="435.1" y1="400.4" x2="478.1" y2="400.4" stroke="#E64B35" stroke-width="1.2" stroke-opacity="0.85"/>
<line x1="435.1" y1="433.5" x2="478.1" y2="433.5" stroke="#3C5488" stroke-width="1.2" stroke-opacity="0.85"/>
<line x1="435.1" y1="466.8" x2="478.1" y2="466.8" stroke="#00A087" stroke-width="1.2" stroke-opacity="0.85"/>
</svg>
<div class="t c" style="left:366.3px;top:-1.85px;font-size:14.1px;line-height:16px;font-weight:bold;">ROC curve in MASLD population</div>
<div class="t c" style="left:120.8px;top:526.6px;">0.0</div>
<div class="t v" style="left:27.4px;top:492.7px;">0.0</div>
<div class="t c" style="left:218.8px;top:526.6px;">0.2</div>
<div class="t v" style="left:27.4px;top:402.1px;">0.2</div>
<div class="t c" style="left:316.8px;top:526.6px;">0.4</div>
<div class="t v" style="left:27.4px;top:311.5px;">0.4</div>
<div class="t c" style="left:414.8px;top:526.6px;">0.6</div>
<div class="t v" style="left:27.4px;top:220.9px;">0.6</div>
<div class="t c" style="left:512.8px;top:526.6px;">0.8</div>
<div class="t v" style="left:27.4px;top:130.3px;">0.8</div>
<div class="t c" style="left:610.8px;top:526.6px;">1.0</div>
<div class="t v" style="left:27.4px;top:39.7px;">1.0</div>
<div class="t c" style="left:366.3px;top:548.7px;">1 − Specificity</div>
<div class="t v" style="left:5.8px;top:266px;">Sensitivity</div>
<div class="t" style="left:498.3px;top:361.7px;letter-spacing:0.07px;">Nomogram: 0.754 (0.728−0.780)</div>
<div class="t" style="left:498.3px;top:395.0px;letter-spacing:0.07px;">FIB4: 0.575 (0.544−0.605)</div>
<div class="t" style="left:498.3px;top:428.4px;letter-spacing:0.07px;">NFS: 0.589 (0.559−0.619)</div>
<div class="t" style="left:498.3px;top:461.7px;letter-spacing:0.07px;">CHI3L1: 0.571 (0.540−0.602)</div>
</div></body></html>
